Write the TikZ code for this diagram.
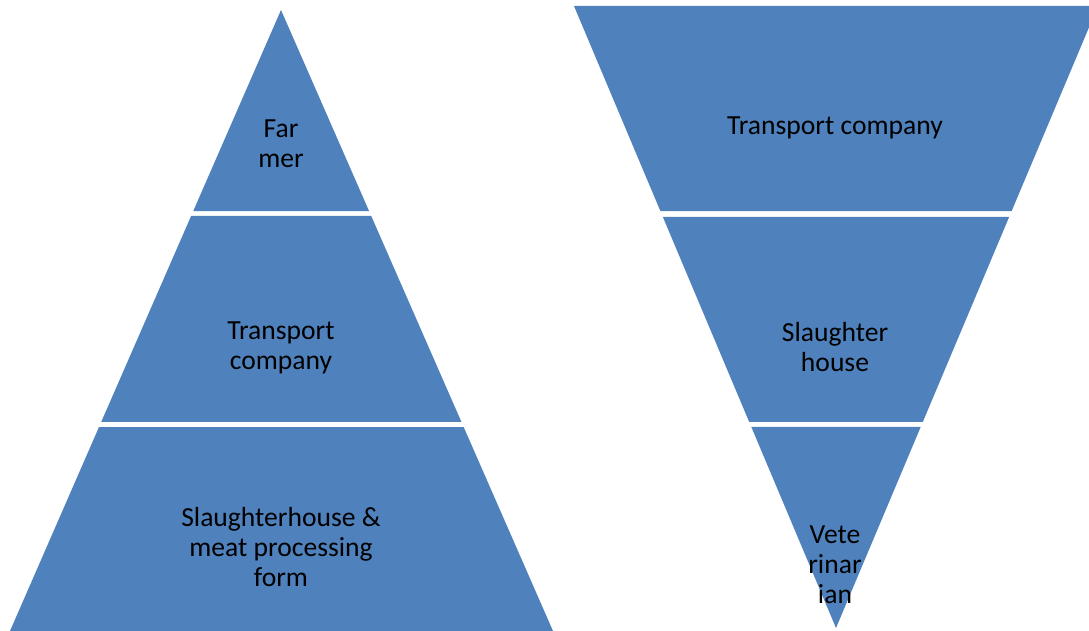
\documentclass[tikz,border=0pt]{standalone}
\usepackage{fontspec}
\setmainfont{Carlito}
\usepackage{tikz}
\usetikzlibrary{calc}
\definecolor{tierblue}{HTML}{4F81BD}

\begin{document}
\begin{tikzpicture}[x=1pt,y=-1pt,
  tier/.style={fill=tierblue},
  lbl/.style={align=center,inner sep=0pt,text=black,font=\fontsize{27.6}{30}\selectfont}]
\useasboundingbox (0,0) rectangle (1089,631);
\clip (0,0) rectangle (1089,631);
% left pyramid
\coordinate (la) at (281,10);
\coordinate (lb) at (10,631);
\coordinate (lc) at (553,631);
\foreach \a/\b in {0/0.3237,0.3317/0.6634,0.6715/1}
  \fill[tier] ($(la)!\a!(lb)$) -- ($(la)!\b!(lb)$) -- ($(la)!\b!(lc)$) -- ($(la)!\a!(lc)$) -- cycle;
\node[lbl] (farmer) at (281,144) {Far\\mer};
\node[lbl] (ltrans) at (281,348) {Transport\\company};
\node[lbl] (lslaugh) at (281,547) {Slaughterhouse \&\\meat processing\\form};
% inverted pyramid
\coordinate (ra) at (836,628);
\coordinate (rb) at (574,6);
\coordinate (rc) at (1098,6);
\foreach \a/\b in {0/0.3232,0.3312/0.6608,0.6704/1}
  \fill[tier] ($(ra)!\a!(rb)$) -- ($(ra)!\b!(rb)$) -- ($(ra)!\b!(rc)$) -- ($(ra)!\a!(rc)$) -- cycle;
\node[lbl] (rtrans) at (835,128) {Transport company};
\node[lbl] (rslaugh) at (835,347) {Slaughter\\house};
\node[lbl] (vet) at (835,565) {Vete\\rinar\\ian};
\end{tikzpicture}
\end{document}
